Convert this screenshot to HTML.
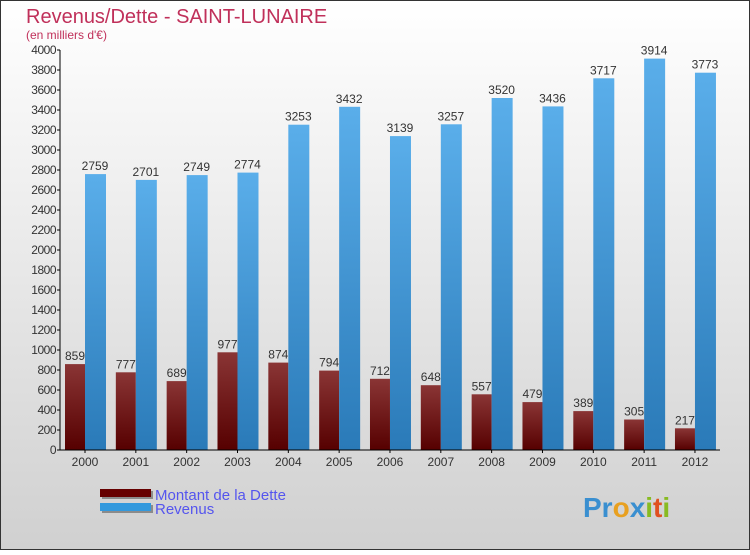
<!DOCTYPE html>
<html><head><meta charset="utf-8"><style>
body{margin:0;width:750px;height:550px;overflow:hidden;font-family:"Liberation Sans",sans-serif}
</style></head><body>
<svg width="750" height="550" xmlns="http://www.w3.org/2000/svg">
<defs>
<linearGradient id="bg" x1="0" y1="0" x2="0" y2="1"><stop offset="0" stop-color="#ffffff"/><stop offset="1" stop-color="#d0d0d0"/></linearGradient>
<linearGradient id="red" x1="0" y1="0" x2="0" y2="1"><stop offset="0" stop-color="#8a3535"/><stop offset="1" stop-color="#560000"/></linearGradient>
<linearGradient id="blue" x1="0" y1="0" x2="0" y2="1"><stop offset="0" stop-color="#5aaeea"/><stop offset="1" stop-color="#2a7ab8"/></linearGradient>
</defs>
<rect x="0.5" y="0.5" width="749" height="549" fill="url(#bg)" stroke="#333"/>
<text x="26" y="23" font-size="20" fill="#c0305a">Revenus/Dette - SAINT-LUNAIRE</text>
<text x="26" y="39" font-size="12" fill="#c0305a">(en milliers d'€)</text>
<g id="plot"></g>
<g>
<rect x="102" y="491" width="51" height="8" fill="#444" opacity="0.5"/>
<rect x="100" y="489" width="51" height="8" fill="#660000"/>
<rect x="102" y="505" width="51" height="8" fill="#444" opacity="0.5"/>
<rect x="100" y="503" width="51" height="8" fill="#3399dd"/>
<text x="155" y="500" font-size="15" fill="#5555ee">Montant de la Dette</text>
<text x="155" y="514" font-size="15" fill="#5555ee">Revenus</text>
</g>
<text x="583" y="517" font-size="28" font-weight="bold"><tspan fill="#3a8fd0">Pr</tspan><tspan fill="#e8a020">o</tspan><tspan fill="#3a8fd0">x</tspan><tspan fill="#88bb22">i</tspan><tspan fill="#e05020">t</tspan><tspan fill="#88bb22">i</tspan></text>
</svg>
<script>
const years=["2000","2001","2002","2003","2004","2005","2006","2007","2008","2009","2010","2011","2012"];
const dette=[859,777,689,977,874,794,712,648,557,479,389,305,217];
const revenus=[2759,2701,2749,2774,3253,3432,3139,3257,3520,3436,3717,3914,3773];
const yTicks=[0,200,400,600,800,1000,1200,1400,1600,1800,2000,2200,2400,2600,2800,3000,3200,3400,3600,3800,4000];
const NS="http://www.w3.org/2000/svg";
const g=document.getElementById('plot');
const y0=450,y1=50,vmax=4000;
const yS=v=>y0-(v/vmax)*(y0-y1);
const xC=i=>85+i*50.83;
function mk(t,a,p){const e=document.createElementNS(NS,t);for(const k in a)e.setAttribute(k,a[k]);(p||g).appendChild(e);return e;}
yTicks.forEach(v=>{
 const l=mk('line',{x1:57,x2:60,y1:yS(v),y2:yS(v),stroke:'#000'});
 
 
 const t=mk('text',{x:56,y:yS(v)+4,'font-size':12,'text-anchor':'end',fill:'#333','letter-spacing':'-0.5'});
 t.textContent=v;
 
 
});
years.forEach((yr,i)=>{
 const c=xC(i);
 const r1=mk('rect',{x:c-20,y:yS(dette[i]),width:20,height:y0-yS(dette[i]),fill:'url(#red)'});
 
 
 const r2=mk('rect',{x:c,y:yS(revenus[i]),width:21,height:y0-yS(revenus[i]),fill:'url(#blue)'});
 
 
 const t1=mk('text',{x:c-10,y:yS(dette[i])-4,'font-size':12,'text-anchor':'middle',fill:'#333'});
 t1.textContent=dette[i];
 
 
 const t2=mk('text',{x:c+10,y:yS(revenus[i])-4,'font-size':12,'text-anchor':'middle',fill:'#333'});
 t2.textContent=revenus[i];
 
 
 const tk=mk('line',{x1:c,x2:c,y1:450,y2:453,stroke:'#000'});
 
 
 const xl=mk('text',{x:c,y:466,'font-size':12,'text-anchor':'middle',fill:'#333'});
 xl.textContent=yr;
 
 
});
const ya=mk('line',{x1:60,x2:60,y1:50,y2:450,stroke:'#000'});


const xa=mk('line',{x1:60,x2:720,y1:450,y2:450,stroke:'#000'});


</script>
</body></html>
